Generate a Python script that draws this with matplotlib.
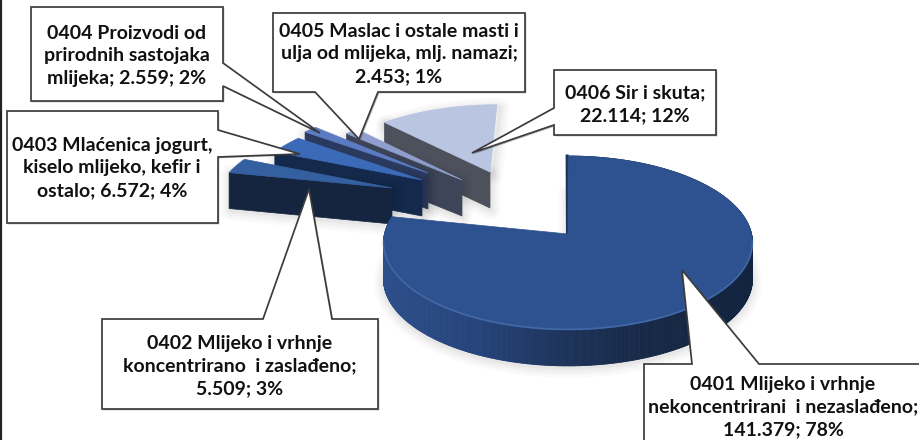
import numpy as np
import matplotlib
matplotlib.use("Agg")
import matplotlib.pyplot as plt
from matplotlib.colors import LinearSegmentedColormap
from matplotlib.collections import PolyCollection
from matplotlib.patches import Polygon
import matplotlib.patheffects as pe

# ---- data ----
codes = ["0401", "0402", "0403", "0404", "0405", "0406"]
values = [141.379, 5.509, 6.572, 2.559, 2.453, 22.114]
labels = [
    "0401 Mlijeko i vrhnje\nnekoncentrirani  i nezaslađeno;\n141.379; 78%",
    "0402 Mlijeko i vrhnje\nkoncentrirano  i zaslađeno;\n5.509; 3%",
    "0403 Mlaćenica jogurt,\nkiselo mlijeko, kefir i\nostalo; 6.572; 4%",
    "0404 Proizvodi od\nprirodnih sastojaka\nmlijeka; 2.559; 2%",
    "0405 Maslac i ostale masti i\nulja od mlijeka, mlj. namazi;\n2.453; 1%",
    "0406 Sir i skuta;\n22.114; 12%",
]
top_colors = ["#2E5290", "#35609F", "#3B6BB8", "#5B7CC2", "#8E9FCE", "#BAC5E1"]
wall_colors = ["#1B3056", "#15243F", "#14294B", "#2A3A5E", "#3F4558", "#4C515C"]

# ---- layout (pixels of the 919x440 canvas) ----
K, k, t = 183.5, 86.0, 0.103      # perspective of the pie
DEPTH = 36.0
CENTER = (569.5, 234.0)
apex_px = [(568, 234), (392, 188), (422, 180), (428, 173), (462, 180), (490, 172)]

# box: x0, x1, y0, y1 ; pointer: tip + base points on the edge
callouts = [
    dict(box=(644, 925, 364, 450), side="top", base=(692, 759), tip=(682, 270), text=(783, 407)),
    dict(box=(102, 378, 319, 409), side="top", base=(263, 332), tip=(309, 189), text=(240, 366)),
    dict(box=(7, 218, 111, 223), side="right", base=(130, 157), tip=(300, 154), text=(112, 168)),
    dict(box=(31, 223, 7, 101), side="right", base=(63, 86), tip=(320, 133), text=(127, 56)),
    dict(box=(273, 525, 13, 92), side="bottom", base=(315, 378), tip=(359, 139), text=(399, 54)),
    dict(box=(554, 716, 70, 135), side="left", base=(108, 125), tip=(472, 153), text=(635, 104)),
]

plt.rcParams["font.family"] = ["Lato", "DejaVu Sans"]
fig = plt.figure(figsize=(9.19, 4.40), dpi=100, facecolor="white")
ax = fig.add_axes([0, 0, 1, 1])
ax.set_xlim(0, 919)
ax.set_ylim(440, 0)
ax.axis("off")


def to_world(px, py):
    u, v = px - CENTER[0], CENTER[1] - py
    Y = v / (k - t * v)
    return u * (1 + t * Y) / K, Y


def to_screen(X, Y):
    w = 1 + t * Y
    return CENTER[0] + K * X / w, CENTER[1] - k * Y / w


# slice angles run clockwise from 12 o'clock
fractions = np.array(values) / np.sum(values)
ends = 90 - 360 * np.cumsum(fractions)
starts = np.concatenate(([90.0], ends[:-1]))

rim_cmap = LinearSegmentedColormap.from_list(
    "rim", [(0, "#2D4F8A"), (0.25, "#25437A"), (0.5, "#1C3258"), (0.72, "#162845"), (1, "#132440")])


def soft_shadow(poly, z):
    for lw in (14, 10, 7, 4, 2):
        ax.add_patch(Polygon(poly, closed=True, fc="none", ec="black", lw=lw, alpha=0.02,
                             joinstyle="round", zorder=z))


# draw back to front: 0406 ... 0402, then the large slice
for i in [5, 4, 3, 2, 1, 0]:
    a = np.radians(np.linspace(starts[i], ends[i], max(int(starts[i] - ends[i]) * 2, 12)))
    X0, Y0 = to_world(*apex_px[i])
    ax_pts = [to_screen(X0 + np.cos(v), Y0 + np.sin(v)) for v in a]
    apex = np.array(to_screen(X0, Y0))
    top = np.vstack([apex, ax_pts])
    z = 2 + (5 - i)

    if i == 0:
        arc = np.array(ax_pts)
        soft_shadow(top + np.array([0, DEPTH + 2]), z)
        quads, cols = [], []
        for p, q in zip(arc[:-1], arc[1:]):
            quads.append([p, q, q + [0, DEPTH], p + [0, DEPTH]])
            cols.append(rim_cmap(np.clip((0.5 * (p[0] + q[0]) - 385) / 370, 0, 1)))
        ax.add_collection(PolyCollection(quads, facecolors=cols, edgecolors=cols, lw=0.6, zorder=z))
    else:
        edge = np.array(ax_pts[0])          # radial edge facing the viewer
        wall = np.array([apex, edge, edge + [0, DEPTH], apex + [0, DEPTH]])
        soft_shadow(wall + np.array([1, 2]), z)
        if i == 5:
            soft_shadow(top + np.array([3, 3]), z)
        ax.add_patch(Polygon(wall, closed=True, fc=wall_colors[i], ec=wall_colors[i], lw=0.5, zorder=z))

    ax.add_patch(Polygon(top, closed=True, fc=top_colors[i], ec=top_colors[i], lw=0.5, zorder=z + 0.1))

    if i == 0:
        arc = np.array(ax_pts)
        front = arc[:, 1] > CENTER[1] + 8
        ax.plot(arc[front, 0], arc[front, 1] - 0.5, color="#4C72B2", lw=1.2, alpha=0.7, zorder=z + 0.2)
        ax.plot([arc[0, 0] - 1, apex[0] - 0.5], [arc[0, 1], apex[1]], color="#1D3358", lw=2.2, zorder=z + 0.05)

# callouts
for c, lab in zip(callouts, labels):
    x0, x1, y0, y1 = c["box"]
    b0, b1 = c["base"]
    tip = c["tip"]
    if c["side"] == "top":
        pts = [(x0, y0), (b0, y0), tip, (b1, y0), (x1, y0), (x1, y1), (x0, y1)]
    elif c["side"] == "bottom":
        pts = [(x0, y0), (x1, y0), (x1, y1), (b1, y1), tip, (b0, y1), (x0, y1)]
    elif c["side"] == "right":
        pts = [(x0, y0), (x1, y0), (x1, b0), tip, (x1, b1), (x1, y1), (x0, y1)]
    else:
        pts = [(x0, y0), (x1, y0), (x1, y1), (x0, y1), (x0, b1), tip, (x0, b0)]
    p = Polygon(pts, closed=True, fc="white", ec="#3C3C3C", lw=1.25, joinstyle="miter", zorder=20)
    p.set_path_effects([pe.SimplePatchShadow(offset=(1, -1), alpha=0.25, shadow_rgbFace="black"), pe.Normal()])
    ax.add_patch(p)
    ax.text(c["text"][0], c["text"][1], lab, ha="center", va="center", fontsize=14, fontweight="bold",
            color="#111111", linespacing=1.4, zorder=21)

# frame line along the left edge of the slide
ax.plot([1, 1], [0, 440], color="#222222", lw=1.6, zorder=30, solid_capstyle="butt")

fig.savefig("out.png", dpi=100, facecolor="white")
